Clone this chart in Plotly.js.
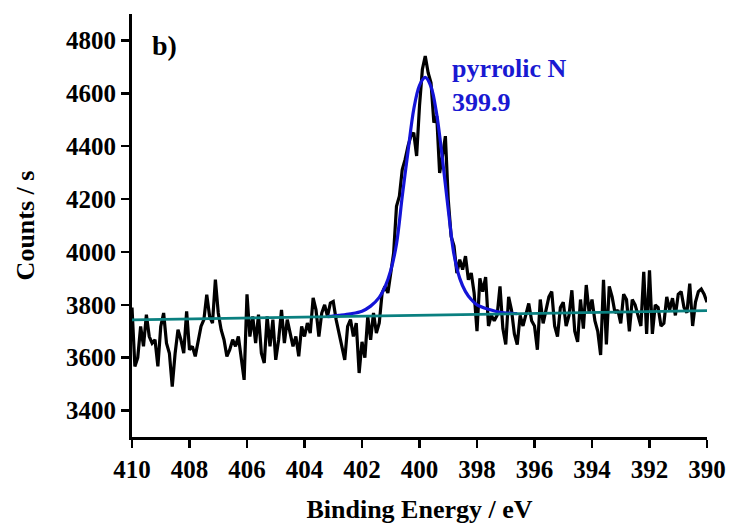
<!DOCTYPE html>
<html>
<head>
<meta charset="utf-8">
<script src="https://cdn.plot.ly/plotly-3.0.1.min.js"></script>
<style>
  html, body { margin: 0; padding: 0; background: #ffffff; }
  #chart { width: 730px; height: 524px; }
</style>
</head>
<body>
<div id="chart"></div>
<script>
// Measured spectrum: binding energy from 410.0 eV down to 390.0 eV, 0.1 eV sampling
const energyStart = 410.0;
const energyStep = 0.1;
const counts = [
  3790, 3567, 3600, 3718, 3643, 3763, 3680, 3655, 3668, 3567,
  3718, 3769, 3655, 3617, 3491, 3617, 3706, 3668, 3617, 3775,
  3630, 3643, 3605, 3655, 3718, 3744, 3838, 3756, 3731, 3895,
  3769, 3706, 3668, 3605, 3630, 3668, 3643, 3680, 3592, 3516,
  3840, 3680, 3756, 3655, 3763, 3617, 3580, 3756, 3643, 3744,
  3592, 3668, 3781, 3655, 3744, 3693, 3643, 3680, 3605, 3718,
  3680, 3731, 3693, 3826, 3781, 3680, 3769, 3800, 3756, 3807,
  3813, 3744, 3693, 3655, 3592, 3718, 3744, 3680, 3731, 3542,
  3660, 3600, 3756, 3668, 3769, 3693, 3731, 3845, 3870, 3845,
  3920, 3996, 4173, 4211, 4312, 4350, 4400, 4438, 4451, 4363,
  4552, 4691, 4741, 4678, 4640, 4489, 4514, 4299, 4363, 4438,
  4198, 4059, 4022, 3920, 3971, 3933, 3984, 3895, 3920, 3845,
  3700, 3900, 3850, 3905, 3720, 3760, 3740, 3760, 3870, 3710,
  3650, 3830, 3780, 3690, 3650, 3760, 3720, 3760, 3805, 3740,
  3720, 3630, 3820, 3730, 3780, 3830, 3850, 3720, 3680, 3790,
  3810, 3720, 3760, 3855, 3700, 3660, 3820, 3710, 3875, 3770,
  3820, 3740, 3700, 3610, 3895, 3650, 3870, 3830, 3770, 3780,
  3730, 3840, 3820, 3700, 3820, 3800, 3760, 3720, 3925, 3690,
  3930, 3690, 3800, 3790, 3720, 3730, 3830, 3780, 3825, 3760,
  3840, 3850, 3790, 3770, 3880, 3720, 3810, 3850, 3860, 3840,
  3810
];

// Fitted pyrrolic N component (with background)
const fitEnergy = [403.2, 402.8, 402.4, 402.0, 401.7, 401.4, 401.2, 401.0, 400.8, 400.6,
                   400.4, 400.2, 400.0, 399.8, 399.6, 399.4, 399.2, 399.0, 398.8, 398.6,
                   398.4, 398.2, 398.0, 397.6, 397.2, 396.8, 396.6];
const fitCounts = [3755, 3760, 3766, 3776, 3795, 3828, 3868, 3930, 4030, 4210,
                   4380, 4540, 4630, 4660, 4625, 4520, 4350, 4160, 3990, 3900,
                   3850, 3820, 3800, 3783, 3772, 3768, 3767];

// Linear background
const baseEnergy = [410, 390];
const baseCounts = [3743, 3778];

const peakLabel = 'pyrrolic N';
const peakPosition = '399.9';
const panelLabel = 'b)';

const energy = counts.map((_, i) => +(energyStart - i * energyStep).toFixed(1));

const FONT = 'Liberation Serif, Times New Roman, serif';

const traces = [
  {
    x: energy, y: counts, type: 'scatter', mode: 'lines',
    line: { color: '#000000', width: 3.2 },
    hoverinfo: 'skip', showlegend: false
  },
  {
    x: fitEnergy, y: fitCounts, type: 'scatter', mode: 'lines',
    line: { color: 'rgb(20,20,215)', width: 3.2, shape: 'spline', smoothing: 0.9 },
    hoverinfo: 'skip', showlegend: false
  },
  {
    x: baseEnergy, y: baseCounts, type: 'scatter', mode: 'lines',
    line: { color: '#0a8080', width: 2.8 },
    hoverinfo: 'skip', showlegend: false
  }
];

const axisCommon = {
  showgrid: false, zeroline: false, showline: true,
  linecolor: '#000000', linewidth: 3,
  ticks: 'outside', ticklen: 8, tickwidth: 2.5, tickcolor: '#000000',
  tickfont: { family: FONT, size: 25, color: '#000000', weight: 'bold' },
  automargin: false, mirror: false
};

const layout = {
  width: 730, height: 524,
  margin: { l: 132, r: 23, t: 14, b: 87 },
  paper_bgcolor: '#ffffff', plot_bgcolor: '#ffffff',
  showlegend: false,
  xaxis: Object.assign({}, axisCommon, {
    range: [410, 390], autorange: false,
    tick0: 390, dtick: 2,
    title: { text: 'Binding Energy / eV', standoff: 18,
             font: { family: FONT, size: 26, color: '#000000', weight: 'bold' } }
  }),
  yaxis: Object.assign({}, axisCommon, {
    range: [3300, 4900], autorange: false,
    tick0: 0, dtick: 200,
    title: { text: 'Counts / s', standoff: 24,
             font: { family: FONT, size: 26, color: '#000000', weight: 'bold' } }
  }),
  annotations: [
    {
      xref: 'paper', yref: 'paper', x: 0.031, y: 0.968,
      xanchor: 'left', yanchor: 'top', showarrow: false,
      text: panelLabel,
      font: { family: FONT, size: 28, color: '#000000', weight: 'bold' }
    },
    {
      xref: 'paper', yref: 'paper', x: 0.553, y: 0.83,
      xanchor: 'left', yanchor: 'middle', align: 'left', showarrow: false,
      text: peakLabel + '<br>' + peakPosition,
      font: { family: FONT, size: 26, color: 'rgb(25,25,210)', weight: 'bold' }
    }
  ]
};

Plotly.newPlot('chart', traces, layout, { staticPlot: true, displayModeBar: false });
</script>
</body>
</html>
